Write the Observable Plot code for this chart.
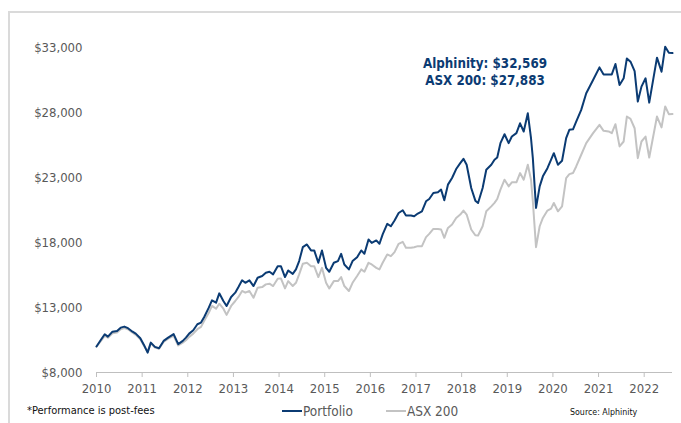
<!DOCTYPE html>
<html>
<head>
<meta charset="utf-8">
<script src="https://cdn.jsdelivr.net/npm/d3@7"></script>
<script src="https://cdn.jsdelivr.net/npm/@observablehq/plot@0.6"></script>
<style>
  html, body { margin: 0; padding: 0; background: #fff; }
  #wrap { position: relative; width: 681px; height: 423px; overflow: hidden; background: #fff;
          font-family: "DejaVu Sans Condensed", "Liberation Sans Narrow", "Liberation Sans", sans-serif; }
  #frame { position: absolute; left: 8px; top: 11px; width: 720px; height: 500px;
           border-left: 2px solid #dadada; border-top: 2px solid #dadada; }
  #chart { position: absolute; left: 0; top: 0; }
  .note { position: absolute; white-space: nowrap; }
  #annot { left: 385px; top: 55px; width: 200px; text-align: center; color: #0b3b73;
           font-weight: bold; font-size: 13.3px; line-height: 17px; }
  #foot { left: 27px; top: 404px; font-size: 11px; color: #111; }
  #source { left: 570px; top: 407px; font-size: 8.8px; color: #111; }
  #legend { left: 282px; top: 403px; font-size: 13.5px; color: #595959; display: flex; align-items: center; }
  .sw { display: inline-block; width: 20px; height: 2px; margin-right: 1px; }
  .item { display: flex; align-items: center; margin-right: 33px; }
</style>
</head>
<body>
<div id="wrap">
  <div id="frame"></div>
  <div id="chart"></div>
  <div id="annot" class="note"></div>
  <div id="foot" class="note"></div>
  <div id="legend" class="note"></div>
  <div id="source" class="note"></div>
</div>
<script>
// Decimal-year positions of the readings (shared by both series)
const years = [
  2010.00, 2010.09, 2010.18, 2010.25, 2010.35, 2010.45, 2010.53, 2010.61, 2010.69, 2010.79, 2010.86, 2010.96,
  2011.04, 2011.12, 2011.19, 2011.28, 2011.37, 2011.47, 2011.57, 2011.69, 2011.79, 2011.89,
  2011.96, 2012.03, 2012.12, 2012.21, 2012.29, 2012.36, 2012.46, 2012.53, 2012.62, 2012.69, 2012.78, 2012.85,
  2012.95, 2013.04, 2013.11, 2013.19, 2013.26, 2013.35, 2013.44, 2013.53, 2013.63, 2013.71, 2013.79, 2013.87,
  2013.97, 2014.04,
  2014.13, 2014.20, 2014.30, 2014.37, 2014.44, 2014.52, 2014.61, 2014.70, 2014.77, 2014.86, 2014.94, 2015.03,
  2015.10, 2015.20, 2015.29, 2015.36, 2015.43, 2015.53, 2015.61, 2015.71, 2015.80, 2015.87, 2015.96, 2016.03,
  2016.13, 2016.20, 2016.27, 2016.37, 2016.45, 2016.53, 2016.62, 2016.71, 2016.78, 2016.89, 2016.96, 2017.04,
  2017.13, 2017.22, 2017.29, 2017.38, 2017.48, 2017.55, 2017.62, 2017.70, 2017.79, 2017.88, 2017.97, 2018.04,
  2018.11, 2018.21, 2018.30,
  2018.36, 2018.46, 2018.54, 2018.65, 2018.72, 2018.78, 2018.85, 2018.94, 2019.03, 2019.10, 2019.20, 2019.28,
  2019.36, 2019.45, 2019.52, 2019.56, 2019.63, 2019.71, 2019.78, 2019.88, 2019.96, 2020.02, 2020.11, 2020.20,
  2020.29, 2020.36, 2020.44, 2020.51, 2020.62, 2020.73, 2020.88, 2021.02, 2021.11, 2021.22, 2021.29, 2021.37,
  2021.46, 2021.55, 2021.62, 2021.70, 2021.79, 2021.86, 2021.94, 2022.03, 2022.11, 2022.28, 2022.38, 2022.46,
  2022.54, 2022.62
];

// Growth of $10,000 – Alphinity portfolio (post-fees)
const portfolio = [
  10000, 10480, 10945, 10760, 11140, 11200, 11450, 11530, 11410, 11140, 10990, 10640,
  10120, 9530, 10300, 9970, 9870, 10430, 10680, 10950, 10180, 10430,
  10680, 10990, 11250, 11710, 11840, 12270, 12990, 13550, 13370, 14090, 13500, 13120,
  13810, 14140, 14570, 15090, 14900, 15090, 14650, 15290, 15420, 15670, 15750, 15550,
  16180, 16180,
  15340, 15850, 15590, 15930, 16570, 17640, 17850, 17390, 17390, 16440, 17390, 16050,
  15750, 16440, 16570, 17130, 16310, 15930, 16570, 16870, 17390, 17130, 18230, 17970,
  18160, 17900, 18620, 19430, 19250, 19690, 20270, 20480, 20070, 20070, 20020, 20230,
  20400, 21170, 21350, 21810, 21860, 22070, 21250, 22450, 22960, 23650, 24110, 24440,
  23980, 22190, 21220,
  21040, 22190, 23600, 23980, 24370, 24540, 25640, 26330, 25640, 26150, 26410, 27170,
  26540, 27940, 26020, 24490, 20660, 22320, 23090, 23720, 24370, 24870, 23980, 24290,
  26025, 26670, 26710, 27300, 28200, 29480, 30500, 31470, 30930, 30930, 30930, 31730,
  30120, 30630, 32160, 31910, 31190, 28840, 29990, 30630, 28760, 32220, 31140, 33060,
  32600, 32569
];

// Growth of $10,000 – S&P/ASX 200
const asx200 = [
  10000, 10400, 10820, 10680, 11020, 11080, 11330, 11420, 11330, 11060, 10900, 10560,
  10050, 9600, 10250, 9920, 9830, 10350, 10600, 10820, 10080, 10300,
  10480, 10740, 10990, 11330, 11510, 11970, 12600, 13120, 12910, 13290, 12910, 12430,
  13120, 13500, 13810, 14270, 14140, 14270, 13750, 14520, 14570, 14780, 14830, 14650,
  15210, 15240,
  14470, 15030, 14650, 14900, 15550, 16360, 16440, 16180, 16180, 15340, 16050, 14900,
  14470, 15030, 15030, 15340, 14650, 14270, 14900, 15420, 15930, 15750, 16440, 16310,
  16050, 15930, 16440, 17080, 16950, 17260, 17900, 18050, 17590, 17590, 17640, 17720,
  17720, 18410, 18660, 19040, 19040, 19000, 18360, 19120, 19380, 19890, 20150, 20460,
  20150, 19000, 18560,
  18540, 19250, 20400, 20780, 21050, 21350, 22070, 22830, 22320, 22630, 22630, 23340,
  22830, 23980, 22830, 21170, 17640, 19250, 19890, 20460, 20610, 21040, 20400, 20780,
  22960, 23260, 23340, 23850, 24750, 25640, 26410, 27050, 26590, 26540, 26410, 27100,
  25390, 25770, 27690, 27510, 26790, 24490, 25770, 26150, 24540, 27690, 26850, 28460,
  27870, 27883
];

const seriesNames = ["Portfolio", "ASX 200"];
const seriesColors = ["#0b3b73", "#c3c3c3"];
const xTicks = [2010, 2011, 2012, 2013, 2014, 2015, 2016, 2017, 2018, 2019, 2020, 2021, 2022];
const yTicks = [8000, 13000, 18000, 23000, 28000, 33000];
const annotationLines = ["Alphinity: $32,569", "ASX 200: $27,883"];
const footnote = "*Performance is post-fees";
const sourceText = "Source: Alphinity";

const portData = years.map((t, i) => ({t, v: portfolio[i]}));
const asxData = years.map((t, i) => ({t, v: asx200[i]}));

const fontFamily = '"DejaVu Sans Condensed", "Liberation Sans Narrow", "Liberation Sans", sans-serif';

const chart = Plot.plot({
  width: 681,
  height: 423,
  marginLeft: 96,
  marginRight: 9,
  marginTop: 47,
  marginBottom: 51,
  style: {fontFamily, fontSize: "13px", color: "#595959", background: "transparent", overflow: "visible"},
  x: {type: "linear", domain: [2010, years[years.length - 1]]},
  y: {type: "linear", domain: [8000, 33000]},
  marks: [
    Plot.ruleY([8000], {stroke: "#bfbfbf", strokeWidth: 1}),
    Plot.axisX({ticks: xTicks, tickFormat: d => String(d), tickSize: 5, tickPadding: 6,
                stroke: "#bfbfbf", fill: "#595959", label: null}),
    Plot.axisY({ticks: yTicks, tickFormat: d => "$" + d3.format(",")(d), tickSize: 0, tickPadding: 14,
                fill: "#595959", label: null}),
    Plot.line(asxData, {x: "t", y: "v", stroke: seriesColors[1], strokeWidth: 2, strokeLinejoin: "round"}),
    Plot.line(portData, {x: "t", y: "v", stroke: seriesColors[0], strokeWidth: 2, strokeLinejoin: "round"})
  ]
});
document.getElementById("chart").appendChild(chart);

document.getElementById("annot").innerHTML = annotationLines.join("<br>");
document.getElementById("foot").textContent = footnote;
document.getElementById("source").textContent = sourceText;
const legend = document.getElementById("legend");
seriesNames.forEach((name, i) => {
  const item = document.createElement("span");
  item.className = "item";
  const sw = document.createElement("span");
  sw.className = "sw";
  sw.style.background = seriesColors[i];
  const label = document.createElement("span");
  label.textContent = name;
  item.appendChild(sw);
  item.appendChild(label);
  legend.appendChild(item);
});
</script>
</body>
</html>
